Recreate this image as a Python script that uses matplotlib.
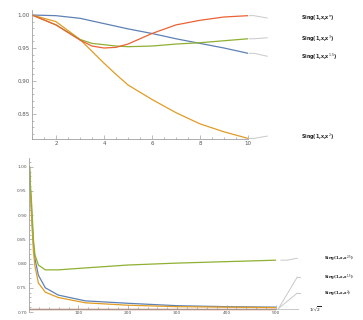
import numpy as np
import matplotlib
matplotlib.use("Agg")
import matplotlib.pyplot as plt
from matplotlib.ticker import MultipleLocator

# ---- data ----
x_top = [1, 2, 3, 3.5, 4, 4.5, 5, 6, 7, 8, 9, 10]
y_blue_top = [1.0, 0.999, 0.995, 0.991, 0.987, 0.983, 0.979, 0.972, 0.964, 0.957, 0.950, 0.942]
y_red_top = [1.0, 0.985, 0.962, 0.953, 0.950, 0.951, 0.956, 0.972, 0.985, 0.992, 0.997, 0.999]
y_green_top = [1.0, 0.985, 0.963, 0.957, 0.955, 0.953, 0.952, 0.953, 0.956, 0.958, 0.961, 0.964]
y_orange_top = [1.0, 0.990, 0.963, 0.945, 0.927, 0.910, 0.894, 0.872, 0.852, 0.835, 0.823, 0.813]

x_bot = [1, 3, 5.5, 9, 12, 19, 33, 59, 114, 200, 300, 400, 500]
y_green_bot = [1.0, 0.96, 0.921, 0.849, 0.818, 0.797, 0.787, 0.787, 0.791, 0.797, 0.801, 0.804, 0.807]
y_blue_bot = [1.0, 0.95, 0.90, 0.84, 0.81, 0.776, 0.750, 0.735, 0.723, 0.718, 0.713, 0.711, 0.710]
y_orange_bot = [1.0, 0.945, 0.89, 0.825, 0.795, 0.760, 0.741, 0.730, 0.719, 0.714, 0.711, 0.710, 0.709]
inv_sqrt2 = 1 / np.sqrt(2)

labels_top = [r"Sing(1,x,x$^{\pi}$)", r"Sing(1,x,x$^{3}$)", r"Sing(1,x,x$^{1.5}$)", r"Sing(1,x,x$^{2}$)"]
labels_bot = [r"Sing(1,x,x$^{2.5}$)", r"Sing(1,x,x$^{1.5}$)", r"Sing(1,x,x$^{2}$)", r"$1/\sqrt{2}$"]

BLUE, ORANGE, GREEN, RED = "#5E81B5", "#E19C24", "#8FB032", "#EB6235"
GRAY = "#A0A0A0"
LINE = "#C8C8C8"

fig = plt.figure(figsize=(3.63, 3.20), dpi=100)


def style(ax, fs):
    for s in ["top", "right"]:
        ax.spines[s].set_visible(False)
    for s in ["left", "bottom"]:
        ax.spines[s].set_color(GRAY)
        ax.spines[s].set_linewidth(0.6)
    ax.tick_params(which="both", direction="in", colors=GRAY, labelcolor="#555555",
                   labelsize=fs, width=0.5, pad=1.5)
    ax.tick_params(which="major", length=3)
    ax.tick_params(which="minor", length=1.5)


# ---- top panel ----
ax1 = fig.add_axes([32 / 363, 1 - 139 / 320, 216 / 363, 129 / 320])
series_top = [(y_red_top, RED), (y_green_top, GREEN), (y_blue_top, BLUE), (y_orange_top, ORANGE)]
for ys, c in [(y_blue_top, BLUE), (y_orange_top, ORANGE), (y_green_top, GREEN), (y_red_top, RED)]:
    ax1.plot(x_top, ys, color=c, lw=0.9, solid_capstyle="round")
ax1.set_xlim(1, 10)
ax1.set_ylim(0.8121, 1.0076)
ax1.xaxis.set_minor_locator(MultipleLocator(0.5))
ax1.yaxis.set_minor_locator(MultipleLocator(0.01))
ax1.set_xticks([2, 4, 6, 8, 10])
ax1.set_yticks([0.85, 0.90, 0.95, 1.00])
ax1.set_yticklabels(["0.85", "0.90", "0.95", "1.00"])
style(ax1, 4)

label_y_top = [0.9945, 0.9645, 0.9365, 0.8155]
for (ys, c), lab, ly in zip(series_top, labels_top, label_y_top):
    xe, ye = x_top[-1], ys[-1]
    ax1.plot([xe + 0.05, xe + 0.25, xe + 0.8], [ye, ye, ly + 0.001], color=LINE, lw=0.7, clip_on=False)
    ax1.text(xe + 2.2, ly, lab, fontsize=3.4, fontweight="bold", ha="left", va="center",
             color="#222222", clip_on=False)

# ---- bottom panel ----
ax2 = fig.add_axes([29 / 363, 1 - 312 / 320, 247 / 363, 154 / 320])
ax2.plot(x_bot, y_blue_bot, color=BLUE, lw=0.9)
ax2.plot(x_bot, y_orange_bot, color=ORANGE, lw=0.9)
ax2.plot(x_bot, y_green_bot, color=GREEN, lw=0.9)
ax2.axhline(inv_sqrt2, color="#C0603A", lw=1.0)
ax2.set_xlim(0, 500)
ax2.set_ylim(0.70, 1.018)
ax2.spines["bottom"].set_position(("data", inv_sqrt2))
ax2.set_xticks([100, 200, 300, 400, 500])
ax2.xaxis.set_minor_locator(MultipleLocator(20))
ax2.set_yticks([0.70, 0.75, 0.80, 0.85, 0.90, 0.95, 1.00])
ax2.set_yticklabels(["0.70", "0.75", "0.80", "0.85", "0.90", "0.95", "1.00"])
ax2.yaxis.set_minor_locator(MultipleLocator(0.01))
style(ax2, 3.2)

series_bot = [(y_green_bot, 0.811), (y_blue_bot, 0.772), (y_orange_bot, 0.739)]
for (ys, ly), lab in zip(series_bot, labels_bot[:3]):
    xe, ye = x_bot[-1], ys[-1]
    if ye > 0.75:
        ax2.plot([xe + 10, xe + 22, xe + 43], [ye, ye, ly], color=LINE, lw=0.7, clip_on=False)
    else:
        ax2.plot([xe + 5, xe + 43], [inv_sqrt2, ly], color=LINE, lw=0.7, clip_on=False)
        ax2.plot([xe + 43, xe + 48], [ly, ly], color=LINE, lw=0.7, clip_on=False)
    ax2.text(xe + 98, ly - 0.002, lab, fontsize=2.8, fontweight="bold", ha="left", va="center",
             color="#222222", clip_on=False)
ax2.plot([500, 545], [inv_sqrt2, inv_sqrt2], color=LINE, lw=0.7, clip_on=False)
ax2.text(567, inv_sqrt2 - 0.002, labels_bot[3], fontsize=3.2, ha="left", va="center",
         color="#222222", clip_on=False)

fig.savefig("out.png", dpi=100)
